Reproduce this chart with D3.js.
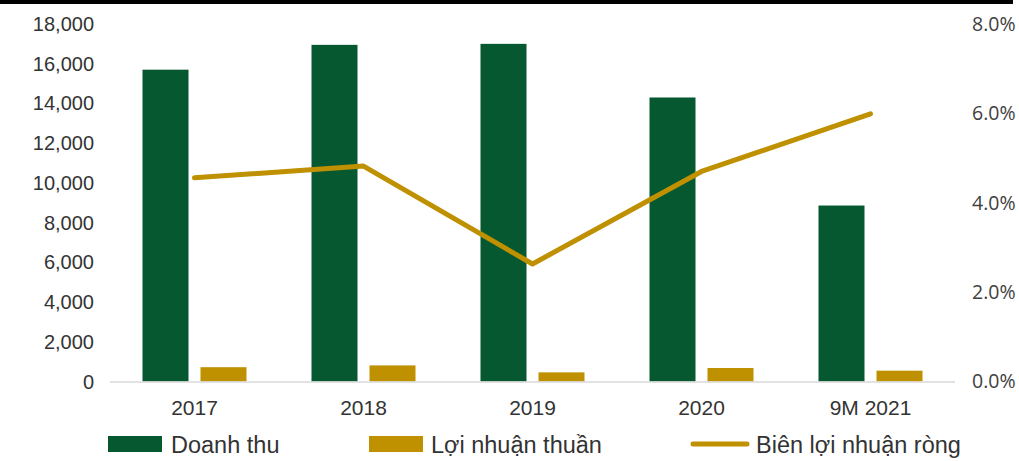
<!DOCTYPE html>
<html>
<head>
<meta charset="utf-8">
<script src="https://cdn.jsdelivr.net/npm/d3@7"></script>
<style>
  html, body { margin: 0; padding: 0; background: #fff; }
  svg { display: block; }
</style>
</head>
<body>
<svg id="chart" width="1019" height="461"></svg>
<script>
// Revenue, net profit (bn VND) and net margin by period
const categories = ["2017", "2018", "2019", "2020", "9M 2021"];
const revenue = [15700, 16950, 17000, 14300, 8860];
const netProfit = [720, 810, 460, 680, 545];
const netMargin = [4.56, 4.82, 2.63, 4.70, 5.99];
const leftTicks = [0, 2000, 4000, 6000, 8000, 10000, 12000, 14000, 16000, 18000];
const rightTicks = [0, 2, 4, 6, 8];
const seriesNames = ["Doanh thu", "Lợi nhuận thuần", "Biên lợi nhuận ròng"];

const GREEN = "#05582f";
const GOLD = "#bf9000";
const TEXT = "#333333";

const svg = d3.select("#chart");

// header rule
svg.append("rect").attr("x", 0).attr("y", 0).attr("width", 1013).attr("height", 4).attr("fill", "#000");

const x = d3.scaleBand().domain(categories).range([110, 955]).paddingInner(0).paddingOuter(0);
const yL = d3.scaleLinear().domain([0, 18000]).range([381.5, 24]);
const yR = d3.scaleLinear().domain([0, 8]).range([381.5, 24]);

const barW = 46, gap = 12;

// left axis labels
const fmt = d3.format(",");
svg.append("g").selectAll("text").data(leftTicks).join("text")
  .attr("x", 94).attr("y", d => yL(d)).attr("dy", "0.35em")
  .attr("text-anchor", "end")
  .attr("font-family", "'Liberation Sans', Arial, sans-serif")
  .attr("font-size", 20).attr("fill", TEXT)
  .text(d => fmt(d));

// right axis labels
svg.append("g").selectAll("text").data(rightTicks).join("text")
  .attr("x", 972).attr("y", d => yR(d)).attr("dy", "0.35em")
  .attr("text-anchor", "start")
  .attr("font-family", "'Open Sans', 'Noto Sans', sans-serif")
  .attr("font-size", 19.5).attr("fill", "#404040")
  .text(d => d.toFixed(1) + "%");

// revenue bars
svg.append("g").selectAll("rect").data(categories).join("rect")
  .attr("x", (c) => x(c) + x.bandwidth() / 2 - gap / 2 - barW)
  .attr("y", (c, i) => yL(revenue[i]))
  .attr("width", barW)
  .attr("height", (c, i) => yL(0) - yL(revenue[i]))
  .attr("fill", GREEN);

// net profit bars
svg.append("g").selectAll("rect").data(categories).join("rect")
  .attr("x", (c) => x(c) + x.bandwidth() / 2 + gap / 2)
  .attr("y", (c, i) => yL(netProfit[i]))
  .attr("width", barW)
  .attr("height", (c, i) => yL(0) - yL(netProfit[i]))
  .attr("fill", GOLD);

// baseline
svg.append("line").attr("x1", 110).attr("x2", 955)
  .attr("y1", yL(0) + 0.5).attr("y2", yL(0) + 0.5)
  .attr("stroke", "#d9d9d9").attr("stroke-width", 1.5);

// category labels
svg.append("g").selectAll("text").data(categories).join("text")
  .attr("x", c => x(c) + x.bandwidth() / 2).attr("y", 415)
  .attr("text-anchor", "middle")
  .attr("font-family", "'Liberation Sans', Arial, sans-serif")
  .attr("font-size", 21).attr("fill", TEXT)
  .text(c => c);

// net margin line
const line = d3.line()
  .x((d, i) => x(categories[i]) + x.bandwidth() / 2)
  .y(d => yR(d));
svg.append("path").datum(netMargin)
  .attr("d", line)
  .attr("fill", "none").attr("stroke", GOLD)
  .attr("stroke-width", 5).attr("stroke-linecap", "round").attr("stroke-linejoin", "round");

// legend
const lg = svg.append("g")
  .attr("font-family", "'Liberation Sans', Arial, sans-serif")
  .attr("font-size", 23.5).attr("fill", TEXT);
lg.append("rect").attr("x", 108).attr("y", 436).attr("width", 54).attr("height", 16).attr("fill", GREEN);
lg.append("text").attr("x", 171).attr("y", 452.5).text(seriesNames[0]);
lg.append("rect").attr("x", 369).attr("y", 436).attr("width", 54).attr("height", 16).attr("fill", GOLD);
lg.append("text").attr("x", 431).attr("y", 452.5).text(seriesNames[1]);
lg.append("line").attr("x1", 693).attr("x2", 747).attr("y1", 444).attr("y2", 444)
  .attr("stroke", GOLD).attr("stroke-width", 5).attr("stroke-linecap", "round");
lg.append("text").attr("x", 756).attr("y", 452.5).text(seriesNames[2]);
</script>
</body>
</html>
